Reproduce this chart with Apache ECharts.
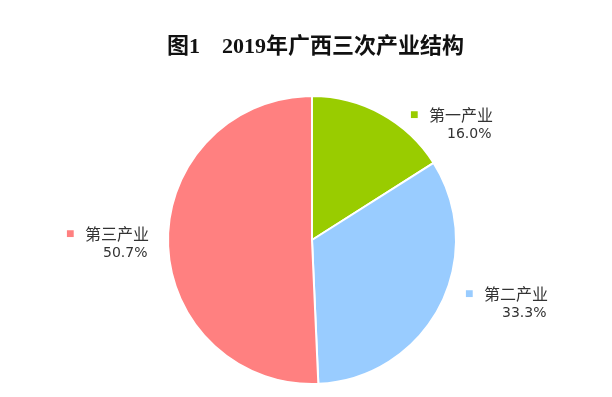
<!DOCTYPE html>
<html>
<head>
<meta charset="utf-8">
<script src="https://cdn.jsdelivr.net/npm/echarts@6/dist/echarts.min.js"></script>
<style>
  html, body { margin: 0; padding: 0; background: #fff; }
  #chart { width: 612px; height: 397px; }
</style>
</head>
<body>
<div id="chart"></div>
<script>
  var categories = ['第一产业', '第二产业', '第三产业'];
  var shares = [16.0, 33.3, 50.7];
  var colors = ['#99cc00', '#99ccff', '#ff8080'];

  // where each label block sits (top-left corner)
  var labelSpots = [[410, 105], [465, 284], [66, 224]];

  var chart = echarts.init(document.getElementById('chart'));

  var pieData = categories.map(function (name, i) {
    return {
      name: name,
      value: shares[i],
      itemStyle: { color: colors[i] },
      label: { rich: { s: { color: colors[i] } } }
    };
  });

  chart.setOption({
    animation: false,
    title: {
      text: '图1　2019年广西三次产业结构',
      left: 162,
      top: 31,
      textStyle: {
        fontFamily: '"Liberation Serif", "Noto Sans CJK SC"',
        fontWeight: 'bold',
        fontSize: 22,
        color: '#111'
      }
    },
    series: [
      {
        type: 'pie',
        center: [312, 240],
        radius: 144,
        startAngle: 90,
        clockwise: true,
        itemStyle: { borderColor: '#fff', borderWidth: 2 },
        labelLine: { show: false },
        label: {
          show: true,
          position: 'outside',
          formatter: function (p) {
            return '{s|■}{n|' + p.name + '}\n{p|' + p.value.toFixed(1) + '%}';
          },
          rich: {
            s: { fontSize: 14, width: 19, align: 'left', verticalAlign: 'middle' },
            n: { fontSize: 16, color: '#333', fontFamily: '"Noto Sans CJK SC"', lineHeight: 20 },
            p: { fontSize: 14, color: '#333', fontFamily: '"DejaVu Sans"', lineHeight: 18, padding: [0, 0, 0, 37] }
          }
        },
        labelLayout: function (params) {
          var spot = labelSpots[params.dataIndex];
          return { x: spot[0], y: spot[1], align: 'left', verticalAlign: 'top' };
        },
        data: pieData
      }
    ]
  });
</script>
</body>
</html>
